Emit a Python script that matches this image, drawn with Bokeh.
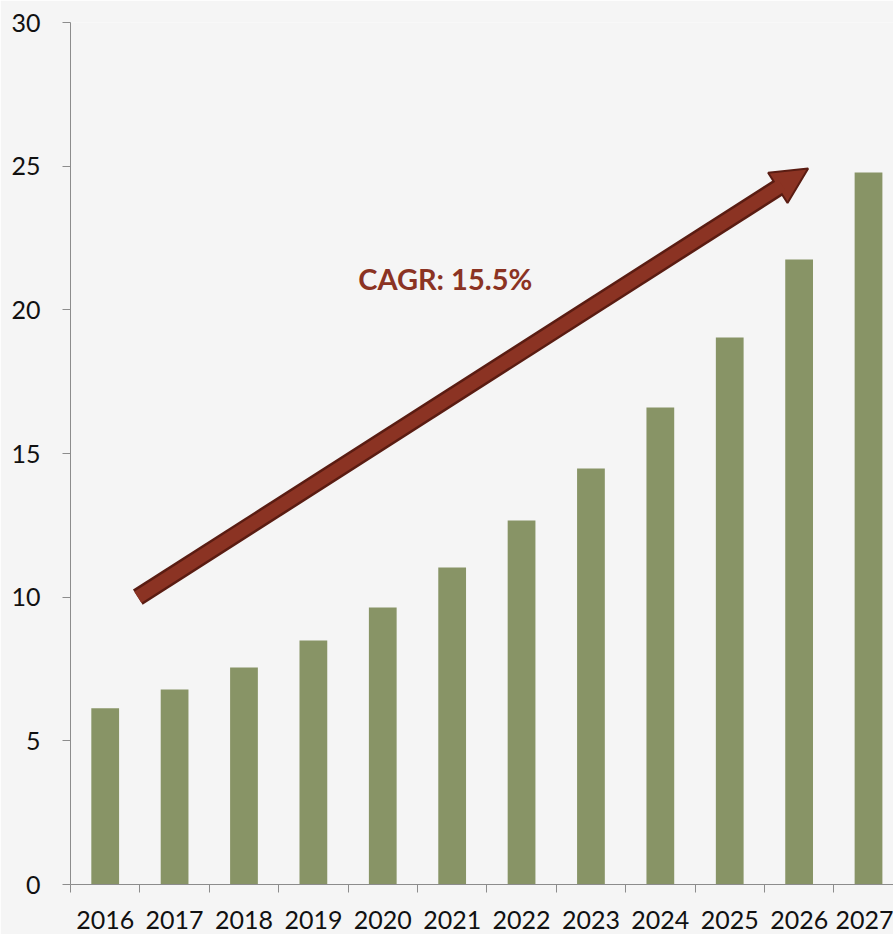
from bokeh.plotting import figure
from bokeh.models import Range1d, FixedTicker, Arrow, NormalHead, Label
from bokeh.embed import file_html
from bokeh.resources import INLINE

years = ["2016", "2017", "2018", "2019", "2020", "2021",
         "2022", "2023", "2024", "2025", "2026", "2027"]
values = [6.13, 6.79, 7.55, 8.49, 9.64, 11.03, 12.67, 14.48, 16.60, 19.04, 21.75, 24.78]
y_ticks = [0, 5, 10, 15, 20, 25, 30]
cagr_text = "CAGR: 15.5%"
arrow_start = (0.97, 10.0)
arrow_end = (10.63, 24.92)
cagr_pos = (5.40, 21.1)

BAR = "#889466"
RED = "#8b3323"
DARK = "#5a1c12"
AXIS = "#8c8c8c"
BG = "#f5f5f5"
FONT = "Lato"

centers = [i + 0.5 for i in range(len(years))]
bounds = list(range(len(years) + 1))

p = figure(width=893, height=934, output_backend="svg", toolbar_location=None,
           x_range=Range1d(0, 11.86), y_range=Range1d(0, 30),
           min_border_left=70, min_border_top=22, min_border_bottom=50,
           min_border_right=0)
p.background_fill_color = BG
p.border_fill_color = BG
p.outline_line_color = None
p.grid.grid_line_color = None

p.vbar(x=centers, top=values, width=0.4, fill_color=BAR, line_color=None)

# x axis: labels at category centres, tick marks at category boundaries
p.xaxis.ticker = FixedTicker(ticks=centers, minor_ticks=bounds)
p.xaxis.major_label_overrides = {c: y for c, y in zip(centers, years)}
p.xaxis.major_tick_line_color = None
p.xaxis.major_tick_out = 0
p.xaxis.major_tick_in = 0
p.xaxis.minor_tick_out = 8
p.xaxis.minor_tick_in = 0
p.xaxis.minor_tick_line_color = AXIS
p.xaxis.axis_line_color = AXIS
p.xaxis.major_label_standoff = 18
p.xaxis.major_label_text_font = FONT
p.xaxis.major_label_text_font_size = "25px"
p.xaxis.major_label_text_color = "#111111"

# y axis
p.yaxis.ticker = FixedTicker(ticks=y_ticks)
p.yaxis.major_tick_out = 8
p.yaxis.major_tick_in = 0
p.yaxis.minor_tick_line_color = None
p.yaxis.major_tick_line_color = AXIS
p.yaxis.axis_line_color = AXIS
p.yaxis.major_label_standoff = 22
p.yaxis.major_label_text_font = FONT
p.yaxis.major_label_text_font_size = "25px"
p.yaxis.major_label_text_color = "#111111"

# arrow: dark outline, then brown inner shaft
outer = Arrow(x_start=arrow_start[0], y_start=arrow_start[1],
              x_end=arrow_end[0], y_end=arrow_end[1],
              line_width=18, line_color=DARK, line_cap="butt",
              end=NormalHead(size=36, fill_color=RED, line_color=DARK, line_width=2))
inner = Arrow(x_start=arrow_start[0], y_start=arrow_start[1],
              x_end=arrow_end[0], y_end=arrow_end[1],
              line_width=13, line_color=RED, line_cap="butt",
              end=NormalHead(size=31, fill_alpha=0, line_alpha=0))
p.add_layout(outer)
p.add_layout(inner)

p.add_layout(Label(x=cagr_pos[0], y=cagr_pos[1], text=cagr_text,
                   text_font=FONT, text_font_style="bold", text_font_size="29px",
                   text_color=RED, text_align="center", text_baseline="middle"))

open("out.html", "w").write(file_html(p, INLINE))
